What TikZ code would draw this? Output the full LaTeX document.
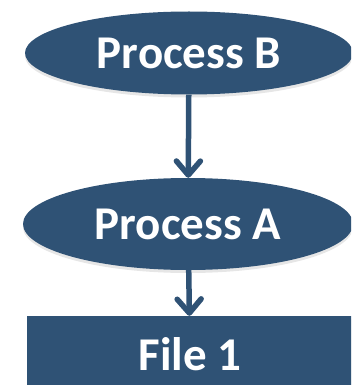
\documentclass[tikz,border=0pt]{standalone}
\usepackage{fontspec}
\setmainfont{Carlito}
\definecolor{procblue}{RGB}{47,82,117}
\usetikzlibrary{shapes,arrows.meta,positioning,shadows}

\begin{document}
\begin{tikzpicture}[x=1pt, y=-1pt,
    proc/.style={ellipse, fill=procblue, text=white, inner sep=0pt,
                 font=\fontsize{47}{52}\selectfont\bfseries,
                 drop shadow={shadow xshift=0pt, shadow yshift=-3pt, opacity=0.2}},
    filebox/.style={rectangle, fill=procblue, text=white, inner sep=0pt,
                 font=\fontsize{47}{52}\selectfont\bfseries,
                 drop shadow={shadow xshift=0pt, shadow yshift=-3pt, opacity=0.2}},
    arrow/.style={-{Straight Barb[length=14pt, width=24pt, round]}, line width=5.5pt, procblue}]

    \clip (0,0) rectangle (351,385);

    \node[proc, minimum width=328pt, minimum height=83pt] (pb) at (189,53) {Process B};
    \node[proc, minimum width=330pt, minimum height=92pt] (pa) at (188,224) {Process A};
    \node[filebox, minimum width=326pt, minimum height=76pt] (f1) at (190,354) {File 1};

    \draw[arrow] (pb) -- (pa);
    \draw[arrow] (pa) -- (f1);
\end{tikzpicture}
\end{document}
